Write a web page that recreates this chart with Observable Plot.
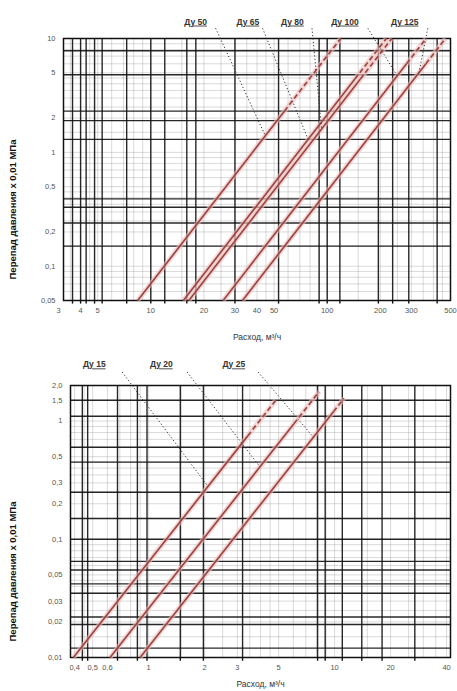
<!DOCTYPE html>
<html><head><meta charset="utf-8">
<script src="https://cdn.jsdelivr.net/npm/d3@7"></script>
<script src="https://cdn.jsdelivr.net/npm/@observablehq/plot@0.6"></script>
<style>
body{margin:0;background:#fff;font-family:"Liberation Sans",Arial,sans-serif}
#wrap{width:457px}
svg{display:block}
.lbl text{text-decoration:underline}
</style></head><body><div id="wrap"></div>
<script>
// ---------- upper chart (Ду 50 … Ду 125) ----------
const topNames = ["Ду 50", "Ду 65", "Ду 80", "Ду 100", "Ду 125"];
const topKv = [37.7, 68.4, 73.5, 115, 148];          // flow at Δp = 1
const topDpMin = [0.05, 0.05, 0.05, 0.05, 0.05];
const topDpDash = [2.3, 4.4, 4.4, 6, 6];              // dashed above this Δp
const topDpMax = [10, 10, 10, 10, 10];
const topXTicks = [3, 4, 5, 10, 20, 30, 40, 50, 100, 200, 300, 500];
const topYTicks = [10, 5, 2, 1, 0.5, 0.2, 0.1, 0.05];
const topXGrid = [3.6, 4, 4.3, 4.8, 5.3, 7.3, 10, 12, 16, 18, 30, 53, 90, 100, 118, 195, 235, 290, 420];
const topYGrid = [7.8, 4.8, 2.3, 1.9, 1.3, 0.39, 0.33, 0.24, 0.15];
// label annotations
const topLabelQ = [17.96, 35.5, 63.5, 126, 275];
const topLeaderQ = [23.3, 43, 82, 170, 372];
const topLeaderDp = [1.4, 1.3, 1.6, 4.7, 5];

// ---------- lower chart (Ду 15 … Ду 25) ----------
const botNames = ["Ду 15", "Ду 20", "Ду 25"];
const botKv = [3.94, 6.2, 9.0];
const botDpMin = [0.01, 0.01, 0.01];
const botDpDash = [0.75, 0.95, 1.2];
const botDpMax = [1.5, 1.77, 1.56];
const botXTicks = [0.4, 0.5, 0.6, 1, 2, 3, 5, 10, 20, 40];
const botYTicks = [2, 1.5, 1, 0.5, 0.3, 0.2, 0.1, 0.05, 0.03, 0.02, 0.01];
const botYLabels = ["2,0", "1,5", "1", "0,5", "0,3", "0,2", "0,1", "0,05", "0,03", "0,02", "0,01"];
const botXGrid = [0.44, 0.47, 0.68, 0.87, 0.98, 1.48, 1.97, 3.2, 8.1, 8.9, 11, 14, 18, 27];
const botYGrid = [1.5, 1.1, 0.6, 0.45, 0.25, 0.15, 0.1, 0.065, 0.055, 0.042, 0.035, 0.022, 0.019, 0.012];
const botLabelQ = [0.51, 1.17, 2.87];
const botLeaderQ = [0.72, 1.61, 3.88];
const botLeaderDp = [0.28, 0.41, 0.73];

// light log-paper subdivisions (mantissas per decade)
const minorMantissas = [1, 1.5, 2, 2.5, 3, 3.5, 4, 4.5, 5, 6, 7, 8, 9];

const yTitle = "Перепад давления х 0,01 МПа";
const xTitle = "Расход, м³/ч";

const fmt = d => String(d).replace(".", ",");
const LINE = "#9a4742", HALO = "#f0bcbc";

function minorGrid([lo, hi]) {
  const out = [];
  for (let e = Math.floor(Math.log10(lo)); e <= Math.ceil(Math.log10(hi)); e++)
    for (const m of minorMantissas) {
      const v = +(m * Math.pow(10, e)).toPrecision(6);
      if (v > lo * 1.001 && v < hi * 0.999) out.push(v);
    }
  return out;
}

function segs(kv, dmin, ddash, dmax) {
  const solid = kv.map((k, i) => ({x1: k * Math.sqrt(dmin[i]), y1: dmin[i], x2: k * Math.sqrt(ddash[i]), y2: ddash[i]}));
  const dashed = kv.map((k, i) => ({x1: k * Math.sqrt(ddash[i]), y1: ddash[i], x2: k * Math.sqrt(dmax[i]), y2: dmax[i]}));
  return {solid, dashed};
}

function chart(o) {
  const s = segs(o.kv, o.dmin, o.ddash, o.dmax);
  const labels = o.names.map((n, i) => ({
    name: n, q: o.labelQ[i], lq: o.leaderQ[i],
    tq: o.kv[i] * Math.sqrt(o.leaderDp[i]), tdp: o.leaderDp[i]
  }));
  const all = [...s.solid, ...s.dashed];
  const y0 = o.ydom[0];
  return Plot.plot({
    width: 457, height: o.height,
    marginTop: o.mt, marginBottom: o.mb, marginLeft: o.ml, marginRight: 7,
    style: {fontFamily: "Liberation Sans, Arial, sans-serif", fontSize: "8px", background: "#fff", color: "#444"},
    x: {type: "log", domain: o.xdom, axis: null},
    y: {type: "log", domain: o.ydom, axis: null},
    marks: [
      Plot.gridX(minorGrid(o.xdom), {stroke: "#8a8a8a", strokeOpacity: 0.45, strokeWidth: 0.7}),
      Plot.gridY(minorGrid(o.ydom), {stroke: "#8a8a8a", strokeOpacity: 0.45, strokeWidth: 0.7}),
      Plot.gridX(o.xgrid, {stroke: "#111", strokeOpacity: 0.9, strokeWidth: 1.4}),
      Plot.gridY(o.ygrid, {stroke: "#111", strokeOpacity: 0.9, strokeWidth: 1.4}),
      Plot.ruleX(o.xgrid, {x: d => d, y1: y0, y2: y0 * o.stub, stroke: "#111", strokeWidth: 1.4}),
      Plot.frame({stroke: "#111", strokeWidth: 1.5}),
      Plot.text(o.xticks, {x: d => d, frameAnchor: "bottom", lineAnchor: "top", dy: 7, text: fmt, fontSize: 7.5, fill: "#555"}),
      Plot.text(o.yticks, {y: d => d, frameAnchor: "left", textAnchor: "end", dx: -8, text: o.yfmt, fontSize: 7.5, fill: "#555"}),
      Plot.link(all, {x1: "x1", y1: "y1", x2: "x2", y2: "y2", stroke: HALO, strokeWidth: 5, strokeOpacity: 0.6}),
      Plot.link(s.solid, {x1: "x1", y1: "y1", x2: "x2", y2: "y2", stroke: LINE, strokeWidth: 1.7}),
      Plot.link(s.dashed, {x1: "x1", y1: "y1", x2: "x2", y2: "y2", stroke: LINE, strokeWidth: 1.7, strokeDasharray: "5,3"}),
      Plot.link(labels, {x1: "lq", y1: () => o.leaderDp0, x2: "tq", y2: "tdp", stroke: "#333", strokeWidth: 1, strokeDasharray: "1.2,2.2"}),
      Plot.text(labels, {x: "q", y: () => o.labelDp, text: "name", fontSize: 8.5, fontWeight: "bold", fill: "#333", className: "lbl"}),
      Plot.text([yTitle], {frameAnchor: "left", dx: -o.ml + 12, dy: o.ytdy, rotate: -90, textAnchor: "middle", fontSize: 9.5, fontWeight: "bold", fill: "#111"}),
      Plot.text([xTitle], {frameAnchor: "bottom", lineAnchor: "top", dy: o.xtdy, textAnchor: "middle", fontSize: 8.5, fill: "#333"})
    ]
  });
}

const wrap = document.getElementById("wrap");
wrap.append(chart({
  names: topNames, kv: topKv, dmin: topDpMin, ddash: topDpDash, dmax: topDpMax,
  labelQ: topLabelQ, leaderQ: topLeaderQ, leaderDp: topLeaderDp,
  xticks: topXTicks, yticks: topYTicks, xgrid: topXGrid, ygrid: topYGrid,
  yfmt: fmt, xdom: [3.2, 500], ydom: [0.05, 10], stub: 0.93,
  height: 350, mt: 38, mb: 50, ml: 63,
  labelDp: 14, leaderDp0: 12.3, ytdy: 40, xtdy: 33
}));
wrap.append(chart({
  names: botNames, kv: botKv, dmin: botDpMin, ddash: botDpDash, dmax: botDpMax,
  labelQ: botLabelQ, leaderQ: botLeaderQ, leaderDp: botLeaderDp,
  xticks: botXTicks, yticks: botYTicks, xgrid: botXGrid, ygrid: botYGrid,
  yfmt: d => botYLabels[botYTicks.indexOf(d)], xdom: [0.38, 42], ydom: [0.01, 2], stub: 0.93,
  height: 341, mt: 35, mb: 34, ml: 70,
  labelDp: 3.0, leaderDp0: 2.6, ytdy: 50, xtdy: 23
}));
</script></body></html>
